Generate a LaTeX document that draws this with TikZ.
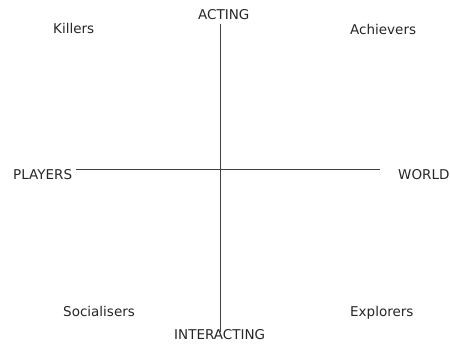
\documentclass[tikz,border=0pt]{standalone}
\usepackage{fontspec}
\setmainfont{DejaVu Sans}

\begin{document}
\begin{tikzpicture}[y=-1pt, x=1pt,font=\fontsize{13.5}{16}\selectfont]
\tikzset{axislabel/.style={anchor=base west, inner sep=0pt, text=black!85},
         axisline/.style={draw=black!75, line width=1pt}}

\useasboundingbox (0,0) rectangle (450,343);

\coordinate (top) at (220,24);
\coordinate (bottom) at (220,332);
\coordinate (left) at (76,169);
\coordinate (right) at (380,169);

\draw[axisline] (top) -- (bottom);
\draw[axisline] (left) -- (right);

\node[axislabel] (acting) at (198,19)       {ACTING};
\node[axislabel] (interacting) at (174,339) {INTERACTING};
\node[axislabel] (players) at (13,179)      {PLAYERS};
\node[axislabel] (world) at (398,179)       {WORLD};

\node[axislabel] (killers) at (53,33)       {Killers};
\node[axislabel] (achievers) at (350,34)    {Achievers};
\node[axislabel] (socialisers) at (63,316)  {Socialisers};
\node[axislabel] (explorers) at (350,316)   {Explorers};
\end{tikzpicture}
\end{document}
